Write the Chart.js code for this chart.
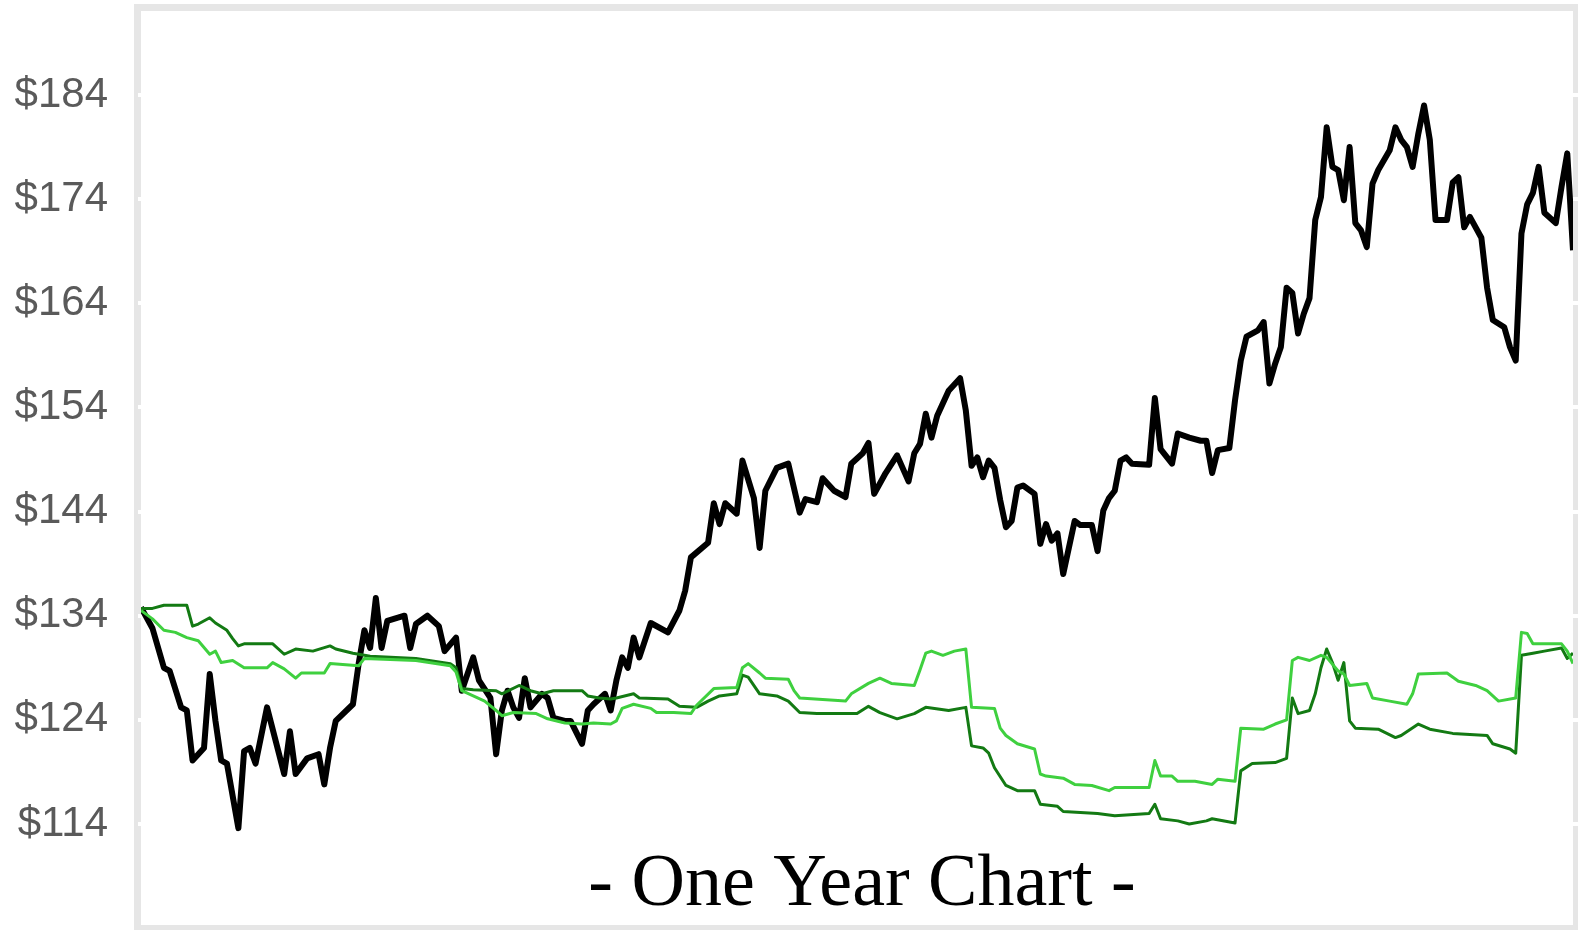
<!DOCTYPE html>
<html>
<head>
<meta charset="utf-8">
<script src="https://cdn.jsdelivr.net/npm/chart.js@4/dist/chart.umd.min.js"></script>
<style>
  html, body { margin: 0; padding: 0; background: #ffffff; }
  #wrap { width: 1578px; height: 930px; position: relative; }
</style>
</head>
<body>
<div id="wrap"><canvas id="c"></canvas></div>
<script>
// ---- Data (trading-day index, price in $) ----
const yTicks = [114, 124, 134, 144, 154, 164, 174, 184];
const titleText = "- One Year Chart -";

const priceDays = [0,2,4,5,7,8,9,11,12,13,14,15,17,18,19,20,22,25,26,27,29,31,32,33,34,37,38,39,40,41,42,43,46,47,48,50,52,53,55,56,57,58,59,61,62,63,64,65,66,67,68,70,71,72,74,75,77,78,79,81,82,83,84,85,86,87,89,92,94,95,96,99,100,101,102,104,105,107,108,109,111,113,115,116,118,119,121,123,124,126,127,128,130,132,134,135,136,137,138,139,140,141,143,144,145,146,147,148,149,150,151,152,153,154,156,157,158,159,160,161,163,164,166,167,168,169,170,171,172,173,176,177,178,180,181,183,185,186,187,188,190,191,192,193,195,196,197,198,199,200,201,202,203,204,205,206,207,208,209,210,211,212,213,214,215,216,218,219,220,221,222,223,224,225,226,228,229,230,231,232,234,235,236,238,239,240,241,242,243,244,245,247,248,249,250];
const priceValues = [134.8,132.8,129.0,128.7,125.2,124.9,120.1,121.3,128.4,123.9,120.1,119.8,113.6,121.0,121.3,119.8,125.2,118.8,122.9,118.8,120.3,120.7,117.8,121.3,123.9,125.5,129.4,132.6,130.9,135.7,130.9,133.5,134.0,130.9,133.2,134.0,133.0,130.6,131.9,126.8,128.4,130.0,127.8,126.1,120.7,124.9,126.8,125.2,124.2,128.0,125.2,126.5,126.1,124.2,123.9,123.9,121.7,124.9,125.5,126.5,124.9,127.8,130.0,129.0,131.9,130.0,133.3,132.4,134.5,136.4,139.6,141.0,144.8,142.8,144.8,143.8,148.9,145.3,140.5,146.0,148.2,148.6,143.9,145.2,144.9,147.2,146.0,145.4,148.6,149.6,150.6,145.7,147.7,149.4,146.9,149.6,150.5,153.4,151.1,153.2,154.4,155.6,156.8,153.7,148.4,149.2,147.3,148.9,148.2,145.1,142.5,143.1,146.3,146.5,145.7,140.9,142.8,141.2,141.9,138.0,143.1,142.7,142.7,140.2,144.1,145.3,146.0,148.9,149.2,148.6,148.5,154.9,150.0,148.6,151.5,151.1,150.8,150.8,147.7,149.9,150.1,154.7,158.5,160.8,161.4,162.2,156.3,158.2,159.8,165.5,165.0,161.1,163.0,164.5,172.0,174.2,180.9,177.1,176.8,173.9,179.0,171.7,171.0,169.4,175.5,176.8,178.7,180.9,179.7,179.0,177.1,180.3,183.0,179.7,172.0,172.0,175.6,176.1,171.3,172.3,170.3,165.5,162.4,161.7,159.8,158.5,170.7,173.5,174.6,177.1,172.7,171.7,175.2,178.4,169.1];

const darkDays = [0,2,4,8,9,10,12,13,15,16,17,18,23,25,27,30,33,34,37,40,48,54,55,56,58,62,63,66,68,70,72,77,78,80,82,83,86,87,92,94,97,99,101,104,105,106,108,111,113,115,118,125,127,129,132,135,137,141,144,145,147,148,149,151,153,156,157,160,161,164,167,170,176,177,178,181,183,186,187,191,192,194,198,200,201,202,204,205,206,207,208,209,210,211,212,216,219,220,223,225,229,235,236,239,240,241,243,245,248,249,250];
const darkValues = [134.7,134.7,135.0,135.0,133.0,133.2,133.8,133.3,132.6,131.8,131.1,131.3,131.3,130.3,130.8,130.6,131.1,130.8,130.4,130.1,129.9,129.4,129.0,127.0,126.9,126.8,126.5,127.3,126.8,126.5,126.8,126.8,126.3,126.1,126.0,126.1,126.5,126.1,126.0,125.3,125.2,125.8,126.3,126.5,128.3,128.1,126.5,126.3,125.8,124.7,124.6,124.6,125.3,124.7,124.1,124.6,125.2,124.9,125.2,121.5,121.3,120.8,119.4,117.7,117.2,117.2,115.9,115.7,115.2,115.1,115.0,114.8,115.0,115.9,114.5,114.3,114.0,114.3,114.5,114.1,119.1,119.8,119.9,120.3,126.1,124.6,124.9,126.5,129.0,130.8,129.5,127.8,129.5,123.9,123.2,123.1,122.3,122.5,123.6,123.1,122.7,122.5,121.7,121.2,120.8,130.2,130.4,130.6,130.9,129.9,130.4];

const lightDays = [0,2,4,6,8,10,12,13,14,16,18,22,23,25,27,28,32,33,38,39,48,54,55,56,58,60,62,63,65,69,71,74,77,79,82,83,84,86,89,90,93,96,97,100,104,105,106,108,109,113,114,115,123,124,127,129,131,135,136,137,138,140,142,144,145,149,150,151,153,156,157,158,161,163,166,169,170,176,177,178,180,181,184,187,188,191,192,196,198,200,201,202,204,206,207,209,210,211,214,215,218,221,222,223,228,230,233,235,237,240,241,242,243,248,249,250];
const lightValues = [134.5,133.7,132.6,132.4,131.9,131.6,130.3,130.6,129.5,129.7,129.0,129.0,129.5,128.9,128.0,128.5,128.5,129.4,129.2,129.9,129.7,129.2,128.6,126.8,126.3,125.8,124.9,124.4,124.7,124.6,124.1,123.7,123.6,123.7,123.6,123.9,125.1,125.5,125.1,124.7,124.7,124.6,125.4,127.0,127.1,129.0,129.4,128.5,128.0,127.9,126.8,126.1,125.8,126.5,127.5,128.0,127.5,127.3,128.8,130.4,130.6,130.2,130.6,130.8,125.2,125.1,123.2,122.5,121.7,121.2,118.8,118.6,118.4,117.8,117.7,117.2,117.5,117.5,120.1,118.6,118.6,118.1,118.1,117.8,118.3,118.1,123.2,123.1,123.6,124.0,129.7,130.0,129.7,130.2,130.0,128.7,128.4,127.3,127.5,126.1,125.8,125.5,126.5,128.4,128.5,127.7,127.3,126.8,125.8,126.1,132.4,132.3,131.3,131.3,130.6,129.4];

function pairs(days, vals) { return days.map((d, i) => ({ x: d, y: vals[i] })); }

const framePlugin = {
  id: 'frame',
  afterDatasetsDraw(chart) {
    const { ctx, chartArea: a } = chart;
    const yScale = chart.scales.y;
    ctx.save();
    ctx.strokeStyle = '#e6e6e6';
    ctx.lineWidth = 7;
    ctx.strokeRect(a.left - 3.5, a.top - 3.5, (a.right - a.left) + 7, (a.bottom - a.top) + 7);
    ctx.fillStyle = '#ffffff';
    yTicks.forEach(v => {
      const py = Math.round(yScale.getPixelForValue(v));
      ctx.fillRect(a.left - 3, py - 2, 3, 4);
      ctx.fillRect(a.right, py - 2, 7, 4);
    });
    ctx.restore();
  },
  afterDraw(chart) {
    const { ctx, chartArea: a } = chart;
    ctx.save();
    ctx.fillStyle = '#000000';
    ctx.font = '74px "Liberation Serif", "Times New Roman", serif';
    ctx.textAlign = 'center';
    ctx.textBaseline = 'alphabetic';
    ctx.fillText(titleText, (a.left + a.right) / 2 + 5, a.bottom - 20);
    ctx.restore();
  }
};

new Chart(document.getElementById('c'), {
  type: 'line',
  data: {
    datasets: [
      { label: 'Index A', data: pairs(lightDays, lightValues), borderColor: '#3fd03f', borderWidth: 3, pointRadius: 0, tension: 0, borderJoinStyle: 'round' },
      { label: 'Index B', data: pairs(darkDays, darkValues), borderColor: '#137a13', borderWidth: 3, pointRadius: 0, tension: 0, borderJoinStyle: 'round' },
      { label: 'Price', data: pairs(priceDays, priceValues), borderColor: '#000000', borderWidth: 6, pointRadius: 0, tension: 0, borderJoinStyle: 'round' }
    ]
  },
  options: {
    responsive: true,
    maintainAspectRatio: false,
    animation: false,
    layout: { padding: { top: 11, right: 5, bottom: 5, left: 0 } },
    plugins: { legend: { display: false }, tooltip: { enabled: false }, title: { display: false } },
    scales: {
      x: { type: 'linear', min: 0, max: 250, display: false },
      y: {
        min: 104.3, max: 192.07,
        position: 'left',
        grid: { display: false, drawTicks: false },
        border: { display: false },
        afterFit(scale) { scale.width = 141; scale.paddingTop = 0; scale.paddingBottom = 0; },
        afterBuildTicks(scale) { scale.ticks = yTicks.map(v => ({ value: v })); },
        ticks: {
          padding: 33,
          color: '#5a5a5a',
          font: { family: '"Liberation Sans", Arial, sans-serif', size: 42 },
          callback: (v) => '$' + v
        }
      }
    }
  },
  plugins: [framePlugin]
});
</script>
</body>
</html>
